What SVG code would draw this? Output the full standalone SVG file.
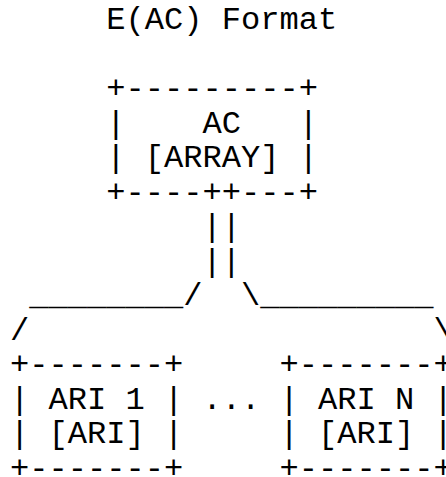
<svg xmlns="http://www.w3.org/2000/svg" width="446" height="477" viewBox="0 0 446 477">
<style>
text{font-family:"Courier New","Liberation Mono",monospace;font-size:32.1px;fill:#000;white-space:pre}
</style>
<rect width="446" height="477" fill="#fff"/>
<g id="title"><text x="106.3" y="29.3" xml:space="preserve">E(AC) Format</text></g>
<g id="node-ac">
<text x="106.3" y="98.3" xml:space="preserve">+---------+</text>
<text x="106.3" y="132.8" xml:space="preserve">|    AC   |</text>
<text x="106.3" y="167.3" xml:space="preserve">| [ARRAY] |</text>
<text x="106.3" y="201.8" xml:space="preserve">+----++---+</text>
</g>
<g id="connectors">
<text x="202.6" y="236.3" xml:space="preserve">||</text>
<text x="202.6" y="270.8" xml:space="preserve">||</text>
<text x="10" y="305.3" xml:space="preserve"> ________/  \_________</text>
<text x="10" y="339.8" xml:space="preserve">/                     \</text>
</g>
<g id="node-ari1">
<text x="10" y="374.3" xml:space="preserve">+-------+</text>
<text x="10" y="408.8" xml:space="preserve">| ARI 1 |</text>
<text x="10" y="443.3" xml:space="preserve">| [ARI] |</text>
<text x="10" y="477.8" xml:space="preserve">+-------+</text>
</g>
<g id="ellipsis"><text x="202.6" y="408.8" xml:space="preserve">...</text></g>
<g id="node-arin">
<text x="279.6" y="374.3" xml:space="preserve">+-------+</text>
<text x="279.6" y="408.8" xml:space="preserve">| ARI N |</text>
<text x="279.6" y="443.3" xml:space="preserve">| [ARI] |</text>
<text x="279.6" y="477.8" xml:space="preserve">+-------+</text>
</g>
</svg>
